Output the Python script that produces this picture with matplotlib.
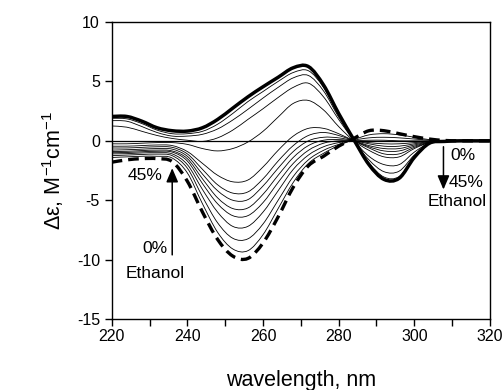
import matplotlib
matplotlib.use("Agg")
import matplotlib.pyplot as plt
import numpy as np
from matplotlib.path import Path
from matplotlib.patches import PathPatch

plt.rcParams["font.family"] = ["Liberation Sans", "DejaVu Sans"]
plt.rcParams["mathtext.fontset"] = "custom"
plt.rcParams["mathtext.rm"] = "Liberation Sans"
plt.rcParams["mathtext.default"] = "regular"
plt.rcParams["axes.unicode_minus"] = False

# wavelength grid (nm) and CD spectra
WAVELENGTH = [220, 224, 228, 232, 236, 240, 244, 248, 252, 256, 260, 264, 268,
              272, 276, 280, 284, 288, 292, 296, 300, 304, 308, 312, 316, 320]

ETOH_0 = [2.05, 2.05, 1.65, 1.1, 0.85, 0.82, 1.1, 1.8, 2.75, 3.7, 4.55, 5.35, 6.15,
          6.25, 4.7, 2.3, 0.1, -2.0, -3.25, -3.15, -1.4, -0.2, -0.05, 0, 0, 0]
MIX_1 = [1.9, 1.85, 1.45, 0.9, 0.6, 0.6, 0.8, 1.4, 2.3, 3.3, 4.15, 5.0, 5.75,
         5.9, 4.5, 2.2, 0.05, -1.85, -3.05, -3.0, -1.35, -0.25, -0.05, 0, 0, 0]
MIX_2 = [1.7, 1.65, 1.2, 0.7, 0.4, 0.4, 0.55, 1.0, 1.75, 2.65, 3.6, 4.5, 5.3,
         5.5, 4.2, 2.0, 0.05, -1.6, -2.6, -2.55, -1.2, -0.25, -0.05, 0, 0, 0]
MIX_3 = [1.25, 1.15, 0.8, 0.45, 0.2, 0.05, -0.05, 0.25, 0.9, 1.8, 2.7, 3.65, 4.5,
         4.85, 3.7, 1.8, 0.05, -1.3, -2.0, -2.0, -0.95, -0.2, -0.05, 0, 0, 0]
MIX_4 = [-0.25, -0.25, -0.2, -0.15, -0.15, -0.3, -0.65, -0.85, -0.65, -0.1, 0.8, 2.0, 3.15,
         3.4, 2.6, 1.2, 0.0, -0.8, -1.35, -1.35, -0.65, -0.15, -0.03, 0, 0, 0]
MIX_5 = [-0.45, -0.45, -0.4, -0.35, -0.4, -0.9, -1.9, -2.9, -3.45, -3.3, -2.2, -0.8, 0.4,
         1.05, 1.05, 0.6, 0.0, -0.6, -1.1, -1.1, -0.55, -0.15, -0.03, 0, 0, 0]
MIX_6 = [-0.6, -0.6, -0.55, -0.5, -0.55, -1.1, -2.4, -3.7, -4.4, -4.3, -3.2, -1.7, -0.4,
         0.45, 0.7, 0.45, 0.0, -0.5, -0.85, -0.85, -0.45, -0.12, -0.03, 0, 0, 0]
MIX_7 = [-0.78, -0.75, -0.7, -0.65, -0.7, -1.3, -2.8, -4.2, -5.0, -4.95, -3.8, -2.3, -0.9,
         0.0, 0.3, 0.25, 0.0, -0.4, -0.65, -0.65, -0.35, -0.1, -0.02, 0, 0, 0]
MIX_8 = [-0.9, -0.88, -0.82, -0.78, -0.85, -1.5, -3.2, -4.8, -5.7, -5.65, -4.5, -2.9, -1.4,
         -0.4, 0.05, 0.1, 0.0, -0.25, -0.45, -0.45, -0.25, -0.07, 0, 0, 0, 0]
MIX_9 = [-1.0, -0.98, -0.92, -0.88, -0.95, -1.7, -3.6, -5.3, -6.3, -6.3, -5.2, -3.5, -1.9,
         -0.8, -0.2, 0.0, 0.0, -0.15, -0.25, -0.25, -0.15, -0.05, 0, 0, 0, 0]
MIX_10 = [-1.1, -1.08, -1.02, -1.0, -1.1, -2.0, -4.1, -6.0, -7.2, -7.2, -6.0, -4.2, -2.4,
          -1.2, -0.5, -0.15, 0.0, 0.05, 0.05, 0.0, 0.0, 0, 0, 0, 0, 0]
MIX_11 = [-1.25, -1.2, -1.15, -1.12, -1.25, -2.3, -4.7, -6.9, -8.2, -8.25, -7.0, -5.0, -3.0,
          -1.6, -0.8, -0.3, 0.05, 0.25, 0.3, 0.25, 0.15, 0.05, 0, 0, 0, 0]
MIX_12 = [-1.4, -1.35, -1.3, -1.3, -1.45, -2.7, -5.3, -7.7, -9.1, -9.25, -7.9, -5.7, -3.5,
          -1.9, -1.05, -0.4, 0.1, 0.5, 0.6, 0.5, 0.3, 0.1, 0.02, 0, 0, 0]
ETOH_45 = [-1.8, -1.6, -1.5, -1.5, -1.75, -3.4, -6.0, -8.3, -9.7, -9.9, -8.6, -6.4, -3.9,
           -2.1, -1.3, -0.45, 0.2, 0.85, 0.85, 0.6, 0.35, 0.15, 0.03, 0, 0, 0]

MIXES = [MIX_1, MIX_2, MIX_3, MIX_4, MIX_5, MIX_6, MIX_7, MIX_8, MIX_9,
         MIX_10, MIX_11, MIX_12]

X_TICKS = [220, 240, 260, 280, 300, 320]
Y_TICKS = [-15, -10, -5, 0, 5, 10]


def smooth_path(x, y):
    # Catmull-Rom through the read points, drawn as cubic Bezier segments
    p = np.column_stack([x, y]).astype(float)
    ext = np.vstack([p[0], p, p[-1]])
    verts = [p[0]]
    codes = [Path.MOVETO]
    for i in range(1, len(ext) - 2):
        p0, p1, p2, p3 = ext[i - 1], ext[i], ext[i + 1], ext[i + 2]
        verts += [p1 + (p2 - p0) / 6, p2 - (p3 - p1) / 6, p2]
        codes += [Path.CURVE4] * 3
    return Path(verts, codes)


def draw(ax, y, **kw):
    patch = PathPatch(smooth_path(WAVELENGTH, y), facecolor="none",
                      edgecolor="black", capstyle="butt", **kw)
    ax.add_patch(patch)


fig = plt.figure(figsize=(5.04, 3.90), dpi=100)
ax = fig.add_axes([0.2216, 0.182, 0.7506, 0.7615])

ax.axhline(0, color="black", lw=0.9)
for m in MIXES:
    draw(ax, m, lw=0.6)
draw(ax, ETOH_0, lw=2.5)
draw(ax, ETOH_45, lw=2.4, linestyle=(0, (3.2, 1.8)))

ax.set_xlim(220, 320)
ax.set_ylim(-15, 10)
ax.set_xticks(X_TICKS)
ax.set_xticks(range(230, 320, 20), minor=True)
ax.set_yticks(Y_TICKS)
ax.tick_params(axis="both", which="both", direction="out", length=5, width=1,
               labelsize=11.5, color="black")
ax.tick_params(axis="x", pad=2)
for s in ax.spines.values():
    s.set_linewidth(1.0)

ax.set_xlabel("wavelength, nm", fontsize=15.5, labelpad=19)
ax.set_ylabel("Δε, M$^{-1}$cm$^{-1}$", fontsize=15.5, labelpad=8)

# annotations
arrow = dict(arrowstyle="-|>,head_length=0.7,head_width=0.3", color="black",
             lw=1.1, mutation_scale=12, shrinkA=0, shrinkB=0)
ax.annotate("", xy=(236, -2.3), xytext=(236, -9.6), arrowprops=arrow)
ax.annotate("", xy=(307.7, -4.1), xytext=(307.7, -0.5), arrowprops=arrow)

ax.text(228.7, -2.9, "45%", fontsize=12.5, ha="center", va="center")
ax.text(234.8, -9.1, "0%", fontsize=12.5, ha="right", va="center")
ax.text(231.5, -11.2, "Ethanol", fontsize=12.5, ha="center", va="center")
ax.text(309.4, -1.2, "0%", fontsize=12.5, ha="left", va="center")
ax.text(309.0, -3.5, "45%", fontsize=12.5, ha="left", va="center")
ax.text(319.2, -5.1, "Ethanol", fontsize=12.5, ha="right", va="center")

fig.savefig("out.png", dpi=100)
